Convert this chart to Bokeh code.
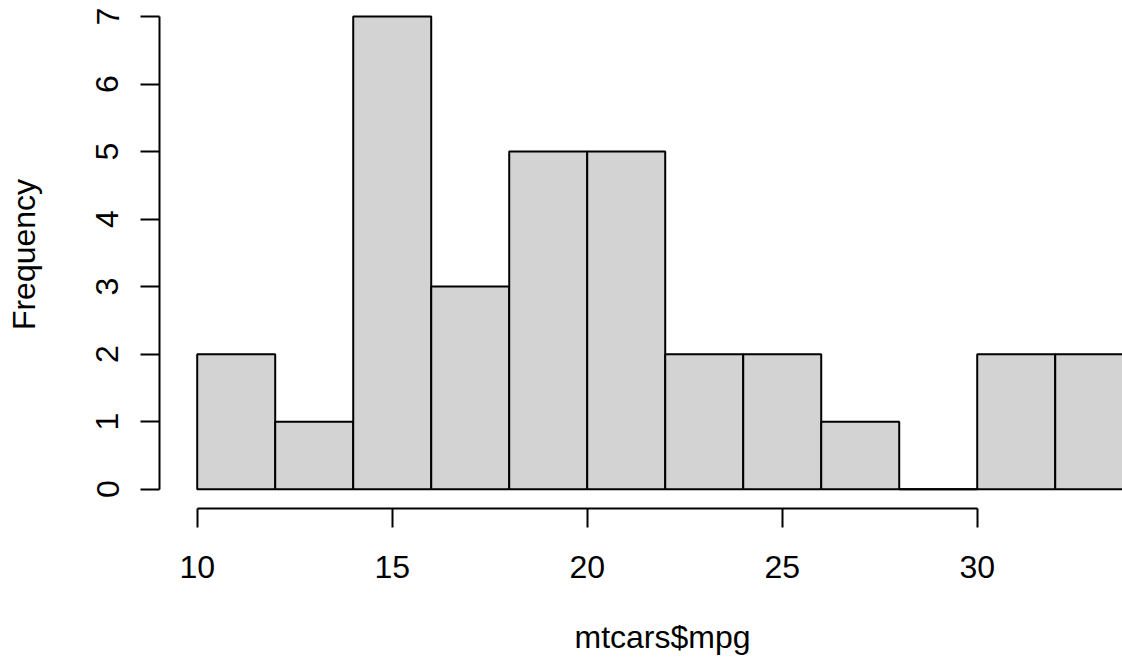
from bokeh.plotting import figure
from bokeh.models import Range1d, FixedTicker, ColumnDataSource, Title
from bokeh.embed import file_html
from bokeh.resources import INLINE

# Histogram of mtcars$mpg (breaks every 2 units)
breaks = [10, 12, 14, 16, 18, 20, 22, 24, 26, 28, 30, 32, 34]
counts = [2, 1, 7, 3, 5, 5, 2, 2, 1, 0, 2, 2]
x_ticks = [10, 15, 20, 25, 30]
y_ticks = [0, 1, 2, 3, 4, 5, 6, 7]
x_title = "mtcars$mpg"
y_title = "Frequency"

FONT = "Liberation Sans"
FS = "32px"

src = ColumnDataSource(dict(
    left=breaks[:-1], right=breaks[1:], top=counts, bottom=[0] * len(counts)
))
zero = [i for i, c in enumerate(counts) if c == 0]
zsrc = ColumnDataSource(dict(
    x0=[breaks[i] for i in zero], x1=[breaks[i + 1] for i in zero],
    y0=[0] * len(zero), y1=[0] * len(zero)
))

p = figure(width=1122, height=662, output_backend="svg", toolbar_location=None,
           x_range=Range1d(9.033, 33.725), y_range=Range1d(-0.286, 7.237),
           min_border_left=159, min_border_right=0, min_border_top=0, min_border_bottom=154)
p.outline_line_color = None
p.xgrid.visible = False
p.ygrid.visible = False
p.background_fill_color = "white"
p.border_fill_color = "white"

p.quad(left="left", right="right", top="top", bottom="bottom", source=src,
       fill_color="#D3D3D3", line_color="black", line_width=2)
p.segment(x0="x0", y0="y0", x1="x1", y1="y1", source=zsrc, line_color="black", line_width=2)

for ax, ticks, bnds in ((p.xaxis[0], x_ticks, (x_ticks[0], x_ticks[-1])),
                        (p.yaxis[0], y_ticks, (y_ticks[0], y_ticks[-1]))):
    ax.ticker = FixedTicker(ticks=ticks)
    ax.bounds = bnds
    ax.axis_line_width = 2
    ax.axis_line_color = "black"
    ax.major_tick_line_width = 2
    ax.major_tick_line_color = "black"
    ax.major_tick_out = 19
    ax.major_tick_in = 0
    ax.minor_tick_line_color = None
    ax.major_label_text_font = FONT
    ax.major_label_text_font_size = FS
    ax.major_label_text_color = "black"
    ax.axis_label_text_font = FONT
    ax.axis_label_text_font_size = FS
    ax.axis_label_text_font_style = "normal"
    ax.axis_label_text_color = "black"

p.yaxis.axis_label = y_title
p.yaxis.major_label_orientation = "vertical"
p.xaxis.major_label_standoff = 28
p.yaxis.major_label_standoff = 22
p.yaxis.axis_label_standoff = 52

# x title: one blank line above it pushes it down to R's title line,
# and the offset centres it on the full R-style plot region
xt = Title(text="\n" + x_title, align="left", offset=415, standoff=0,
           text_font=FONT, text_font_size=FS, text_color="black",
           text_font_style="normal")
p.add_layout(xt, "below")

open("out.html", "w").write(file_html(p, INLINE))
